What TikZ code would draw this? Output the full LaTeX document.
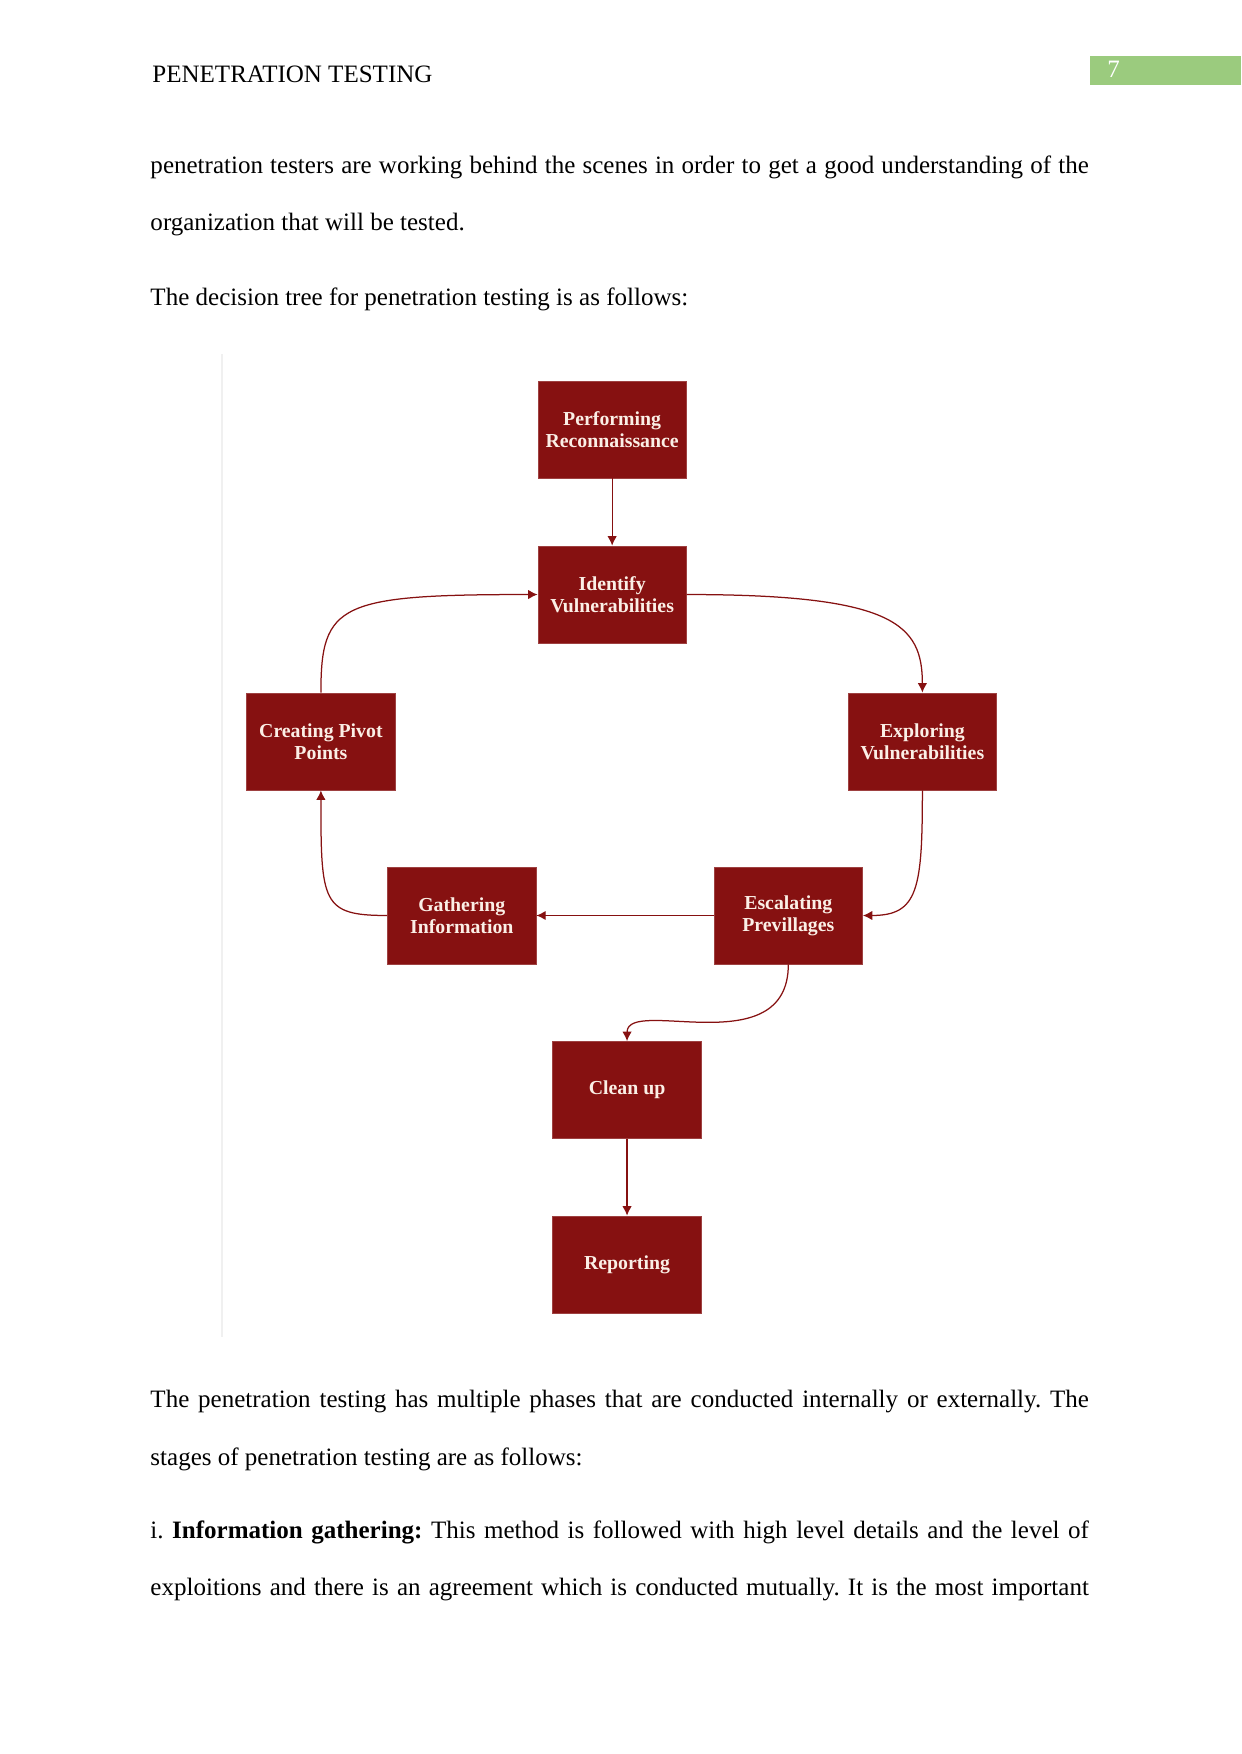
\documentclass[tikz,border=0pt]{standalone}
\usepackage{fontspec}
\setmainfont{Liberation Serif}
\usetikzlibrary{arrows.meta}
\definecolor{bordeaux}{HTML}{861111}
\definecolor{creme}{HTML}{FBEFE6}
\definecolor{vertpage}{HTML}{9BCB7E}
\tikzset{
  phase/.style={rectangle, fill=bordeaux, draw=bordeaux!80, line width=0.4pt,
               align=center, text=creme, font=\fontsize{9.5}{10.6}\selectfont\bfseries,
               minimum width=2.5cm, minimum height=1.635cm, inner sep=0pt},
  arr/.style={-{Latex[length=4.5pt,width=4.5pt]}, line width=0.6pt, draw=bordeaux},
  ligne/.style={anchor=base west, inner sep=0pt, font=\fontsize{12}{14}\selectfont},
}
\newcommand{\pleine}[1]{\makebox[15.82cm][s]{#1}}
\frenchspacing

\begin{document}
\begin{tikzpicture}
    \useasboundingbox (0,0) rectangle (20.922,-29.57);
    % en-tete
    \fill[vertpage] (18.376,-0.944) rectangle (20.922,-1.433);
    \node[ligne] (titre) at (2.563,-1.399) {PENETRATION TESTING};
    \node[ligne, text=white] (num) at (18.663,-1.315) {7};
    % texte avant
    \node[ligne] (l1) at (2.53,-2.917) {\pleine{penetration testers are working behind the scenes in order to get a good understanding of the}};
    \node[ligne] (l2) at (2.53,-3.878) {organization that will be tested.};
    \node[ligne] (l3) at (2.53,-5.142) {The decision tree for penetration testing is as follows:};
    % cadre de la figure
    \draw[gray!12, line width=0.8pt] (3.743,-5.968) -- (3.743,-22.540);
    \node[phase] (perf)   at (10.32,-7.241)  {Performing\\ Reconnaissance};
    \node[phase] (ident)  at (10.32,-10.023) {Identify\\ Vulnerabilities};
    \node[phase] (pivot)  at (5.410,-12.501)  {Creating Pivot\\ Points};
    \node[phase] (explo)  at (15.55,-12.501) {Exploring\\ Vulnerabilities};
    \node[phase] (gather) at (7.785,-15.434)  {Gathering\\ Information};
    \node[phase] (escal)  at (13.29,-15.434) {Escalating\\ Previllages};
    \node[phase] (clean)  at (10.571,-18.376) {Clean up};
    \node[phase] (report) at (10.571,-21.318) {Reporting};
    \draw[arr] (perf) -- (ident);
    \draw[arr] (ident.east) .. controls +(3.5,0) and +(0,1.15) .. (explo.north);
    \draw[arr] (pivot.north) .. controls +(0,1.5) and +(-3.35,0) .. (ident.west);
    \draw[arr] (explo.south) .. controls +(0,-1.67) and +(0.93,0) .. (escal.east);
    \draw[arr] (escal) -- (gather);
    \draw[arr] (gather.west) .. controls +(-1.1,0) and +(0,-1.9) .. (pivot.south);
    \draw[arr] (escal.south) .. controls +(0,-1.69) and +(0,0.76) .. (clean.north);
    \draw[arr] (clean) -- (report);
    % texte apres
    \node[ligne] (l4) at (2.53,-23.721) {\pleine{The penetration testing has multiple phases that are conducted internally or externally. The}};
    \node[ligne] (l5) at (2.53,-24.698) {stages of penetration testing are as follows:};
    \node[ligne] (l6) at (2.53,-25.929) {\pleine{i. \textbf{Information gathering:} This method is followed with high level details and the level of}};
    \node[ligne] (l7) at (2.53,-26.890) {\pleine{exploitions and there is an agreement which is conducted mutually. It is the most important}};
\end{tikzpicture}
\end{document}
